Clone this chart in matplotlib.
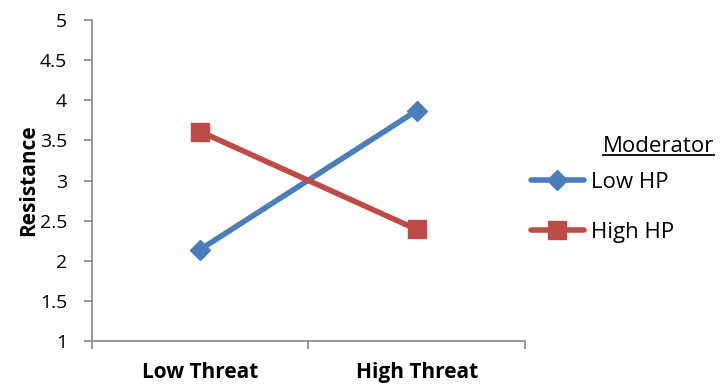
import matplotlib.pyplot as plt
from matplotlib.lines import Line2D

categories = ['Low Threat', 'High Threat']
low_hp = [2.14, 3.87]
high_hp = [3.61, 2.39]
y_ticks = [1, 1.5, 2, 2.5, 3, 3.5, 4, 4.5, 5]

plt.rcParams['font.family'] = ['Open Sans', 'DejaVu Sans']

blue = '#4a7ebb'
red = '#be4b48'
axis_gray = '#868686'

fig = plt.figure(figsize=(7.23, 3.85), dpi=100)
ax = fig.add_axes([0.1272, 0.1143, 0.5989, 0.8337])

x = list(range(1, len(categories) + 1))
ax.plot(x, low_hp, color=blue, linewidth=4, marker='D', markersize=10,
        label='Low HP', solid_capstyle='round')
ax.plot(x, high_hp, color=red, linewidth=4, marker='s', markersize=13,
        label='High HP', solid_capstyle='round')

ax.set_xlim(0.5, len(categories) + 0.5)
ax.set_ylim(1, 5)
ax.set_yticks(y_ticks)
ax.set_yticklabels([f'{t:g}' for t in y_ticks])
ax.set_xticks(x)
ax.set_xticklabels(categories, fontweight='bold')
ax.set_xticks([i + 0.5 for i in range(len(categories) + 1)], minor=True)

ax.tick_params(axis='x', which='major', length=0, pad=15, labelsize=15)
ax.tick_params(axis='x', which='minor', length=6, width=1.2, color=axis_gray, direction='out')
ax.tick_params(axis='y', length=6, width=1.2, color=axis_gray, direction='out',
               labelsize=14, pad=12)

for side in ['top', 'right']:
    ax.spines[side].set_visible(False)
for side in ['left', 'bottom']:
    ax.spines[side].set_color(axis_gray)
    ax.spines[side].set_linewidth(1.2)

ax.set_ylabel('Resistance', fontweight='bold', fontsize=15, labelpad=0)

title = fig.text(0.834, 0.605, 'Moderator', fontsize=16, ha='left', va='baseline')

fig.legend(loc='upper left', bbox_to_anchor=(0.734, 0.554), frameon=False,
           fontsize=16, handlelength=2.4, handletextpad=0.3, labelspacing=1.3,
           borderaxespad=0, borderpad=0)

# underline the legend title
fig.canvas.draw()
bb = title.get_window_extent().transformed(fig.transFigure.inverted())
fig.add_artist(Line2D([bb.x0, bb.x1], [0.597, 0.597], color='black', linewidth=1.3,
                      transform=fig.transFigure))

fig.savefig('out.png', dpi=100)
